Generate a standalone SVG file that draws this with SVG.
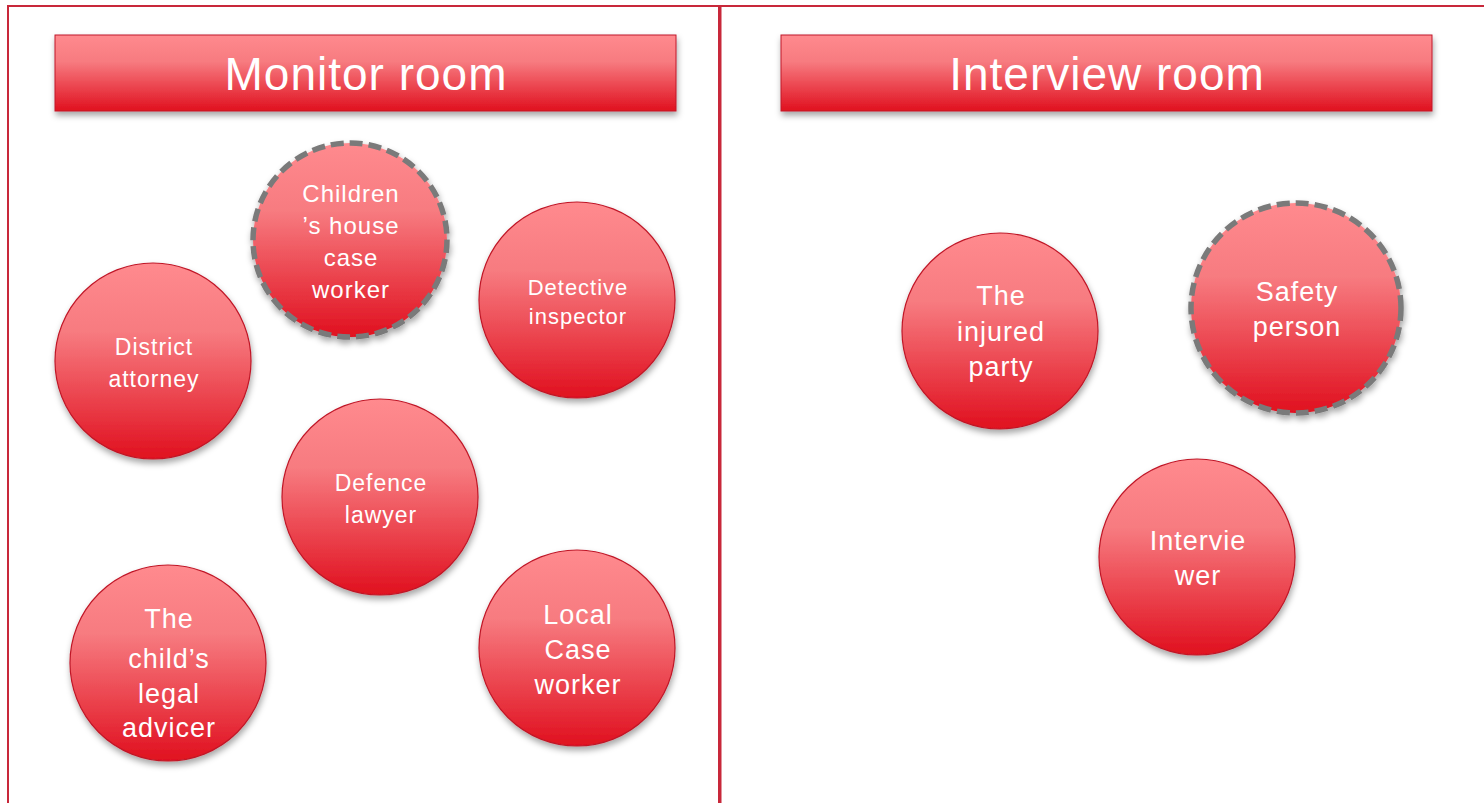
<svg xmlns="http://www.w3.org/2000/svg" width="1484" height="803" viewBox="0 0 1484 803">
<defs>
<linearGradient id="g" x1="0" y1="0" x2="0" y2="1">
<stop offset="0" stop-color="#FF8A8E"/>
<stop offset="0.35" stop-color="#F77B80"/>
<stop offset="1" stop-color="#E0101F"/>
</linearGradient>
<filter id="sh" x="-20%" y="-20%" width="150%" height="150%">
<feDropShadow dx="1" dy="4" stdDeviation="3" flood-color="#000" flood-opacity="0.35"/>
</filter>
<style>
.frame{fill:none;stroke:#C8283A;stroke-width:2}
.hdr{fill:url(#g);stroke:#C01828;stroke-width:1;filter:url(#sh)}
.c{fill:url(#g);stroke:#C01828;stroke-width:1.2;filter:url(#sh)}
.cd{fill:url(#g);stroke:#7A7A7A;stroke-width:5.5;stroke-dasharray:13 6;filter:url(#sh)}
text{font-family:"Liberation Sans",Arial,sans-serif;fill:#fff;text-anchor:middle;letter-spacing:1px}
.h{font-size:46px}
.s{font-size:23px}
.d{font-size:22px}
.m{font-size:24px}
.l{font-size:27px}
</style>
</defs>
<g id="frames">
<rect class="frame" x="8" y="6" width="711" height="810"/>
<line class="frame" x1="719" y1="6" x2="1484" y2="6"/>
<line x1="720" y1="6" x2="720" y2="803" stroke="#C8283A" stroke-width="3"/>
</g>
<g id="monitor-room">
<rect class="hdr" x="55" y="35" width="621" height="76"/>
<text class="h" x="366" y="90">Monitor room</text>
</g>
<g id="interview-room">
<rect class="hdr" x="781" y="35" width="651" height="76"/>
<text class="h" x="1107" y="90">Interview room</text>
</g>
<g id="childrens-house-case-worker">
<circle class="cd" cx="350" cy="240" r="97"/>
<text class="m" x="351" y="202">Children</text>
<text class="m" x="351" y="234">’s house</text>
<text class="m" x="351" y="266">case</text>
<text class="m" x="351" y="298">worker</text>
</g>
<g id="detective-inspector">
<circle class="c" cx="577" cy="300" r="98"/>
<text class="d" x="578" y="295">Detective</text>
<text class="d" x="578" y="324">inspector</text>
</g>
<g id="district-attorney">
<circle class="c" cx="153" cy="361" r="98"/>
<text class="s" x="154" y="355">District</text>
<text class="s" x="154" y="387">attorney</text>
</g>
<g id="defence-lawyer">
<circle class="c" cx="380" cy="497" r="98"/>
<text class="s" x="381" y="491">Defence</text>
<text class="s" x="381" y="523">lawyer</text>
</g>
<g id="childs-legal-advicer">
<circle class="c" cx="168" cy="663" r="98"/>
<text class="l" x="169" y="628">The</text>
<text class="l" x="169" y="668">child’s</text>
<text class="l" x="169" y="703">legal</text>
<text class="l" x="169" y="737">advicer</text>
</g>
<g id="local-case-worker">
<circle class="c" cx="577" cy="648" r="98"/>
<text class="l" x="578" y="624">Local</text>
<text class="l" x="578" y="659">Case</text>
<text class="l" x="578" y="694">worker</text>
</g>
<g id="injured-party">
<circle class="c" cx="1000" cy="331" r="98"/>
<text class="l" x="1001" y="305">The</text>
<text class="l" x="1001" y="341">injured</text>
<text class="l" x="1001" y="376">party</text>
</g>
<g id="safety-person">
<circle class="cd" cx="1296" cy="308" r="105"/>
<text class="l" x="1297" y="301">Safety</text>
<text class="l" x="1297" y="336">person</text>
</g>
<g id="interviewer">
<circle class="c" cx="1197" cy="557" r="98"/>
<text class="l" x="1198" y="550">Intervie</text>
<text class="l" x="1198" y="585">wer</text>
</g>
<g id="connectors"/>
</svg>
